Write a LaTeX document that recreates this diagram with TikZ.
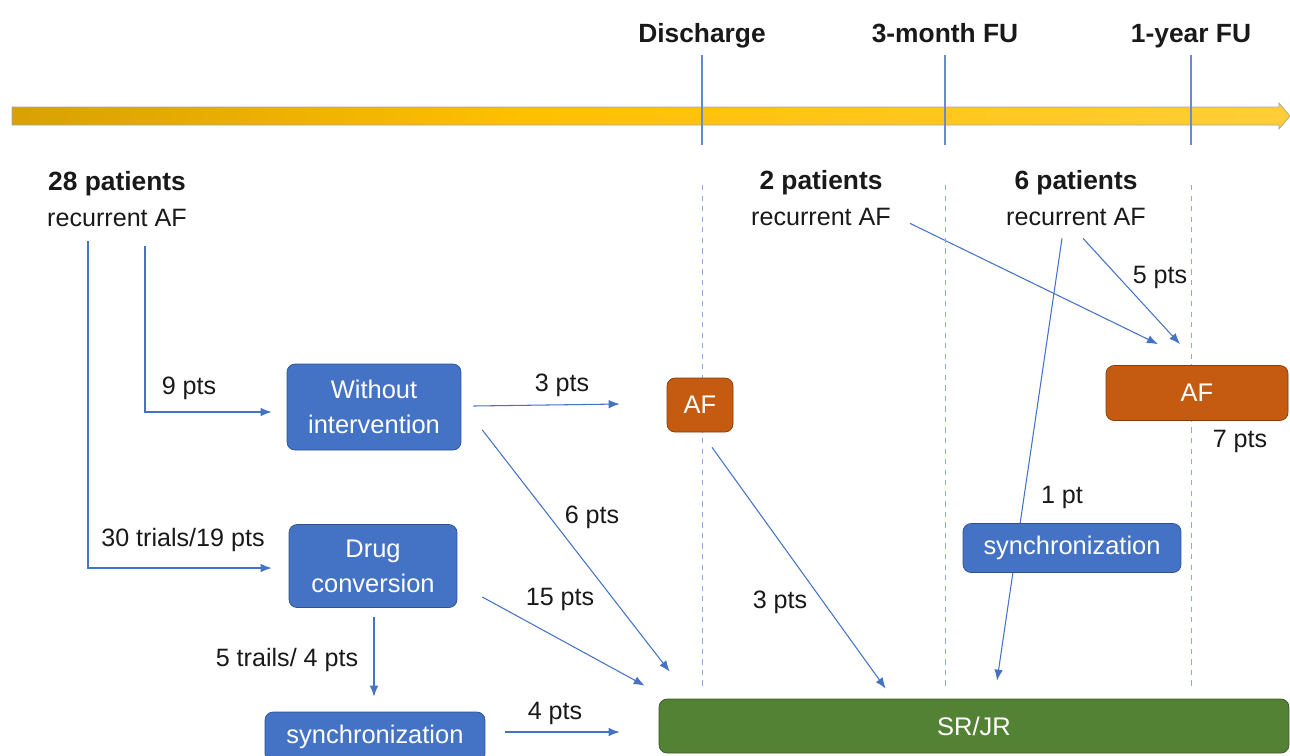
\documentclass[tikz,border=0pt]{standalone}
\usepackage{fontspec}
\setmainfont{Liberation Sans}
\usetikzlibrary{calc, backgrounds, arrows.meta}
\definecolor{boxblue}{HTML}{4472C4}
\definecolor{boxedge}{HTML}{2F528F}
\definecolor{afcol}{HTML}{C55A11}
\definecolor{afedge}{HTML}{843C0C}
\definecolor{srcol}{HTML}{548235}
\definecolor{sredge}{HTML}{385723}
\definecolor{barL}{HTML}{A87A08}
\definecolor{barM}{HTML}{FFC000}
\definecolor{barR}{HTML}{FFD966}
\definecolor{gridcol}{HTML}{8EA9DB}
\definecolor{tickcol}{HTML}{6A8ACF}
\pgfdeclarehorizontalshading{timebar}{100bp}{color(0bp)=(barL); color(45bp)=(barM); color(100bp)=(barR)}
\tikzset{block/.style={draw=boxedge, fill=boxblue, text=white, rounded corners=0.16cm, inner sep=0pt, align=center, font=\fontsize{14.5}{20}\selectfont},
af/.style={block, draw=afedge, fill=afcol},
sr/.style={block, draw=sredge, fill=srcol},
lbl/.style={font=\fontsize{14.3}{20}\selectfont, text=black!90, inner sep=1pt},
cohort/.style={lbl, align=center},
milestone/.style={font=\bfseries\fontsize{15}{18}\selectfont, text=black!90, anchor=base},
line/.style={-{Latex[length=0.22cm, width=0.17cm]}, draw=boxblue, line width=0.6pt},
tick/.style={tickcol, line width=0.6pt},
guide/.style={gridcol, dashed, line width=0.5pt}
}

\begin{document}
\begin{tikzpicture}[x=0.02cm, y=-0.02cm]
\useasboundingbox (0,0) rectangle (1290,755);
% time line
\shadedraw[shading=timebar, draw=black!35, line width=0.4pt] (12,107) -- (1279,107) -- (1279,103) -- (1290,116) -- (1279,129) -- (1279,125) -- (12,125) -- cycle;
\foreach \x/\t [count=\i] in {702/Discharge, 945/3-month FU, 1191/1-year FU} {
  \node[milestone] (Mile \i) at (\x,42) {\t};
  \draw[tick] (\x,55) -- (\x,145);
  \draw[guide] (\x,185) -- (\x,690);
}

% cohorts
\node[cohort] (Pat28) at (117,199) {{\bfseries\fontsize{15}{20}\selectfont 28 patients}\\recurrent AF};
\node[cohort] (Pat2) at (821,198) {{\bfseries\fontsize{15}{20}\selectfont 2 patients}\\recurrent AF};
\node[cohort] (Pat6) at (1076,198) {{\bfseries\fontsize{15}{20}\selectfont 6 patients}\\recurrent AF};

% boxes
\node[block, minimum width=3.48cm, minimum height=1.72cm] (Without) at (374,407) {Without\\intervention};
\node[block, minimum width=3.36cm, minimum height=1.66cm] (Drug) at (373,566) {Drug\\conversion};
\node[block, minimum width=4.4cm, minimum height=1cm] (Sync left) at (375,737) {synchronization};
\node[af, minimum width=1.32cm, minimum height=1.08cm] (AF left) at (700,405) {AF};
\node[af, minimum width=3.64cm, minimum height=1.1cm] (AF right) at (1197,393) {AF};
\node[block, minimum width=4.36cm, minimum height=0.98cm] (Sync right) at (1072,548) {synchronization};
\node[sr, minimum width=12.6cm, minimum height=1.08cm] (SRJR) at (974,726) {SR/JR};

% connectors
\begin{scope}[on background layer]
\draw[line] ($(Pat28.south)+(28,18)$) |- ($(Without.west)+(-15,5)$);
\draw[line] ($(Pat28.south)+(-29,13)$) |- ($(Drug.west)+(-17,2)$);
\draw[line] ($(Without.east)+(12,-1)$) -- ($(AF left.west)+(-47,-1)$);
\draw[line] ($(Without.east)+(21,23)$) -- ($(SRJR.north west)+(11,-27)$);
\draw[line] ($(Drug.east)+(25,31)$) -- ($(SRJR.north west)+(-14,-13)$);
\draw[line] ($(Drug.south)+(1,9)$) -- ($(Sync left.north)+(-1,-15)$);
\draw[line] ($(Sync left.east)+(20,-5)$) -- ($(SRJR.west |- Sync left.east)+(-39,-5)$);
\draw[line] ($(AF left.south)+(12,15)$) -- ($(SRJR.north west)+(227,-10)$);
\draw[line] ($(Pat2.south)+(89,-4)$) -- ($(AF right.north)+(-39,-21)$);
\draw[line] ($(Pat6.south)+(7,11)$) -- ($(AF right.north)+(-17,-21)$);
\draw[line] ($(Pat6.south)+(-14,11)$) -- ($(SRJR.north)+(23,-18)$);
\end{scope}

% labels
\node[lbl] (n9) at (189,388) {9 pts};
\node[lbl] (n30) at (183,540) {30 trials/19 pts};
\node[lbl] (n3a) at (562,385) {3 pts};
\node[lbl] (n6) at (592,517) {6 pts};
\node[lbl] (n15) at (560,599) {15 pts};
\node[lbl] (n5t) at (287,660) {5 trails/ 4 pts};
\node[lbl] (n4) at (555,713) {4 pts};
\node[lbl] (n3b) at (780,602) {3 pts};
\node[lbl] (n5) at (1160,277) {5 pts};
\node[lbl] (n1) at (1062,497) {1 pt};
\node[lbl] (n7) at (1240,441) {7 pts};
\end{tikzpicture}
\end{document}
